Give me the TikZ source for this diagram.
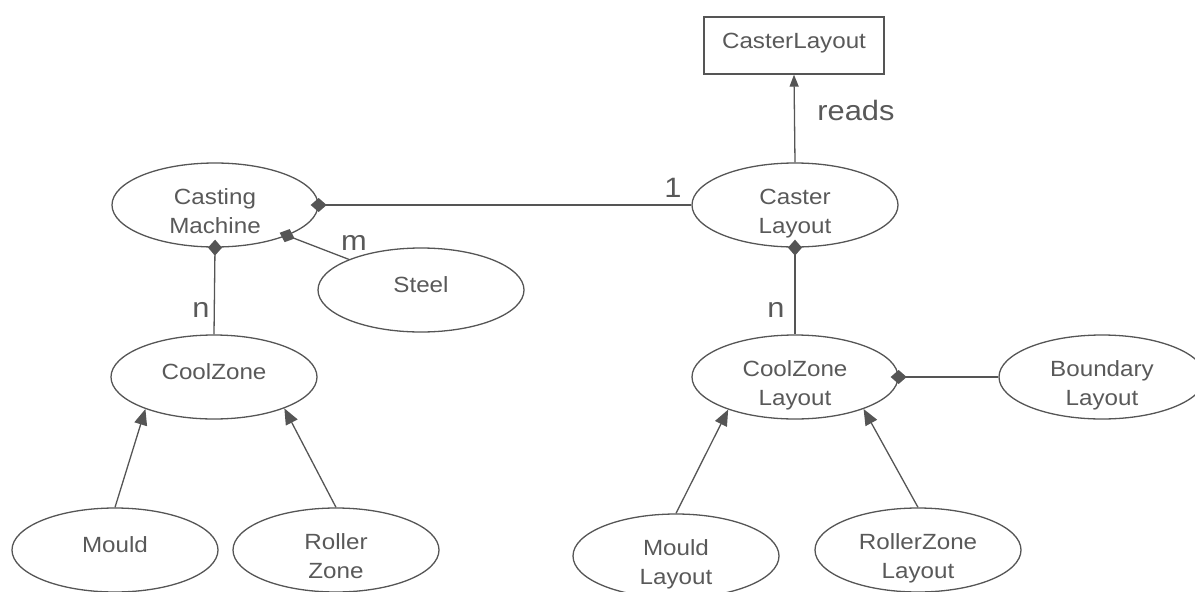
\documentclass[tikz,border=0pt]{standalone}
\usepackage{fontspec}
\setmainfont{Liberation Sans}[FakeStretch=1.1]
\usetikzlibrary{shapes.geometric,arrows.meta}
\definecolor{ink}{HTML}{555555}
\definecolor{txt}{HTML}{595959}

\begin{document}
\begin{tikzpicture}[x=1pt,y=-1pt,
  ent/.style={ellipse,draw=ink,line width=1.3pt,minimum width=206pt,minimum height=84pt,
    inner sep=0pt,text=txt,align=center,font=\fontsize{22}{29}\selectfont},
  one/.style={ent,text height=16pt,text depth=12pt},
  two/.style={ent,text height=57pt,text depth=0pt},
  classbox/.style={draw=ink,line width=1.3pt,minimum width=180pt,minimum height=57pt,
    inner sep=0pt,text=txt,font=\fontsize{22}{29}\selectfont,text height=16pt,text depth=10pt},
  conn/.style={draw=ink,line width=1.3pt},
  comp/.style={conn,{Diamond[length=16pt,width=14pt]}-,shorten <=-8pt},
  gen/.style={conn,-{Triangle[length=16pt,width=13pt]}},
  uses/.style={conn,-{Triangle[length=12pt,width=9pt]}},
  lbl/.style={anchor=base,text=txt,font=\fontsize{28}{30}\selectfont,inner sep=0pt}]

\useasboundingbox (0,0) rectangle (1195,592);

% entities
\node[two] (cm)  at (215,205) {Casting\\Machine};
\node[two] (cl)  at (795,205) {Caster\\Layout};
\node[one] (st)  at (421,290) {Steel};
\node[one] (cz)  at (214,377) {CoolZone};
\node[two] (czl) at (795,377) {CoolZone\\Layout};
\node[two] (bl)  at (1102,377) {Boundary\\Layout};
\node[one] (mo)  at (115,550) {Mould};
\node[two] (rz)  at (336,550) {Roller\\Zone};
\node[two] (ml)  at (676,556) {Mould\\Layout};
\node[two] (rzl) at (918,550) {RollerZone\\Layout};
\node[classbox] (clr) at (794,45.5) {CasterLayout};

% compositions
\draw[comp] (cm.east) -- (cl.west);
\draw[comp] (cm.337) -- (st.157);
\draw[comp] (cm.south) -- (cz.north);
\draw[comp] (cl.south) -- (czl.north);
\draw[comp] (czl.east) -- (bl.west);

% dependency
\draw[uses] (cl.north) -- (clr.south);

% specialisations
\draw[gen] (mo.north) -- (cz.205);
\draw[gen] (rz.north) -- (cz.336);
\draw[gen] (ml.north) -- (czl.206);
\draw[gen] (rzl.north) -- (czl.335);

% multiplicities and roles
\node[lbl] (l1)  at (673,197) {1};
\node[lbl] (lm)  at (354,250) {m};
\node[lbl] (ln1) at (201,317) {n};
\node[lbl] (ln2) at (776,317) {n};
\node[lbl] (lr)  at (856,120) {reads};
\end{tikzpicture}
\end{document}
